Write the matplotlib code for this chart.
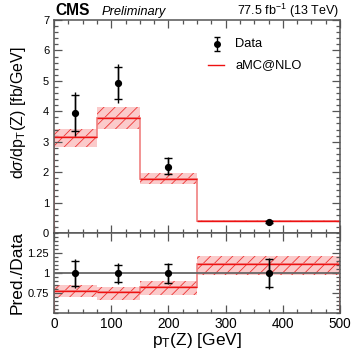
import matplotlib
matplotlib.use("Agg")
import matplotlib.pyplot as plt
import numpy as np
from matplotlib.ticker import MultipleLocator, FixedLocator

plt.rcParams['font.family'] = ['Liberation Sans', 'DejaVu Sans']
plt.rcParams['mathtext.fontset'] = 'custom'
plt.rcParams['mathtext.rm'] = 'Liberation Sans'
plt.rcParams['mathtext.it'] = 'Liberation Sans:italic'
plt.rcParams['hatch.linewidth'] = 0.6
plt.rcParams['hatch.color'] = '#ee3030'

# ---- data ----
bin_edges = [0, 75, 150, 250, 500]
bin_centers = [37.5, 112.5, 200, 375]
data_vals = [3.93, 4.93, 2.18, 0.35]
data_stat_up = [4.53, 5.46, 2.46, 0.38]
data_stat_dn = [3.36, 4.42, 1.94, 0.32]
data_tot_up = [4.62, 5.56, 2.50, 0.39]
data_tot_dn = [3.20, 4.28, 1.90, 0.31]

mc_vals = [3.15, 3.79, 1.79, 0.40]
mc_up = [3.43, 4.15, 1.98, 0.43]
mc_dn = [2.83, 3.41, 1.60, 0.37]

ratio_data = [1.0, 1.0, 1.0, 1.0]
ratio_stat_up = [1.145, 1.104, 1.116, 1.175]
ratio_stat_dn = [0.835, 0.883, 0.875, 0.82]
ratio_tot_up = [1.175, 1.125, 1.13, 1.19]
ratio_tot_dn = [0.81, 0.865, 0.86, 0.80]
ratio_mc = [0.78, 0.76, 0.825, 1.108]
ratio_mc_up = [0.854, 0.825, 0.90, 1.216]
ratio_mc_dn = [0.695, 0.666, 0.725, 0.97]

W = H = 357
fig = plt.figure(figsize=(3.57, 3.57), dpi=100)
L, R = 54 / W, 340 / W
ax = fig.add_axes([L, 1 - 233 / H, R - L, (233 - 20) / H])
rx = fig.add_axes([L, 1 - 313 / H, R - L, (313 - 233) / H])

frame_col = '#555555'
band_fill = '#fbcaca'
line_red = '#ee1111'
vert_col = '#f08080'


def draw_mc(a, vals, up, dn):
    edges = np.array(bin_edges)
    for i in range(len(vals)):
        a.fill_between([edges[i], edges[i + 1]], [dn[i]] * 2, [up[i]] * 2,
                       facecolor=band_fill, edgecolor='none', zorder=1)
        a.fill_between([edges[i], edges[i + 1]], [dn[i]] * 2, [up[i]] * 2,
                       facecolor='none', edgecolor='#ee3333', hatch='///',
                       linewidth=0, zorder=1.5)
    a.stairs(vals, edges, color=vert_col, linewidth=1.2, zorder=2)
    a.hlines(vals, edges[:-1], edges[1:], color=line_red, linewidth=1.0, zorder=2.5)


def draw_data(a, x, y, sup, sdn, tup, tdn):
    y = np.array(y)
    a.errorbar(x, y, yerr=[y - np.array(tdn), np.array(tup) - y], fmt='none',
               ecolor='black', elinewidth=1.0, capsize=0, zorder=4)
    a.errorbar(x, y, yerr=[y - np.array(sdn), np.array(sup) - y], fmt='o',
               color='black', ms=4.2, elinewidth=1.0, capsize=2.8,
               capthick=1.0, zorder=5)


draw_mc(ax, mc_vals, mc_up, mc_dn)
draw_data(ax, bin_centers, data_vals, data_stat_up, data_stat_dn, data_tot_up, data_tot_dn)

rx.axhline(1.0, color='#666666', linewidth=1.3, zorder=3)
draw_mc(rx, ratio_mc, ratio_mc_up, ratio_mc_dn)
draw_data(rx, bin_centers, ratio_data, ratio_stat_up, ratio_stat_dn, ratio_tot_up, ratio_tot_dn)

ax.set_xlim(0, 500)
ax.set_ylim(0, 7)
rx.set_xlim(0, 500)
rx.set_ylim(0.5, 1.5)

for a in (ax, rx):
    for s in a.spines.values():
        s.set_color(frame_col)
        s.set_linewidth(1.1)
    a.tick_params(which='both', direction='in', top=True, right=True,
                  color=frame_col, labelsize=8, width=0.9)
    a.tick_params(which='major', length=6)
    a.tick_params(which='minor', length=3)
    a.xaxis.set_major_locator(MultipleLocator(100))
    a.xaxis.set_minor_locator(MultipleLocator(25))

ax.yaxis.set_major_locator(MultipleLocator(1))
ax.yaxis.set_minor_locator(MultipleLocator(0.2))
ax.tick_params(labelbottom=False)
rx.yaxis.set_major_locator(FixedLocator([0.75, 1.0, 1.25]))
rx.yaxis.set_minor_locator(MultipleLocator(0.05))
rx.set_yticklabels(['0.75', '1', '1.25'])
rx.tick_params(axis='x', labelsize=9.8, pad=3)

# labels
fig.text(19 / W, 1 - 46 / H, r'd$\sigma$/dp$_{\mathrm{T}}$(Z) [fb/GeV]', rotation=90,
         ha='center', va='top', fontsize=11.5)
fig.text(17 / W, 1 - 272 / H, 'Pred./Data', rotation=90, ha='center', va='center',
         fontsize=12.5)
fig.text(197 / W, 1 - 341 / H, r'p$_{\mathrm{T}}$(Z) [GeV]', ha='center', va='center',
         fontsize=12.5)

fig.text(55 / W, 1 - 15 / H, 'CMS', fontweight='bold', fontsize=11.2, ha='left', va='baseline')
fig.text(102 / W, 1 - 15 / H, 'Preliminary', style='italic', fontsize=9.3, ha='left', va='baseline')
fig.text(339 / W, 1 - 15 / H, r'77.5 fb$^{-1}$ (13 TeV)', fontsize=9, ha='right', va='baseline')

# legend (manual)
lx = ax.transAxes.inverted()
def fig_to_ax(px, py):
    return lx.transform(fig.transFigure.transform((px / W, 1 - py / H)))

p = fig_to_ax(217, 44)
ax.errorbar([p[0]], [p[1]], yerr=[[0.035], [0.035]], transform=ax.transAxes, fmt='o',
            color='black', ms=4.0, capsize=2.5, elinewidth=1.0, capthick=1.0)
t = fig_to_ax(235, 44)
ax.text(t[0], t[1], 'Data', transform=ax.transAxes, fontsize=9.3, va='center', ha='left')
a1 = fig_to_ax(208, 65)
a2 = fig_to_ax(224, 65)
ax.plot([a1[0], a2[0]], [a1[1], a2[1]], transform=ax.transAxes, color=line_red, linewidth=1.0)
t = fig_to_ax(235, 65)
ax.text(t[0], t[1], 'aMC@NLO', transform=ax.transAxes, fontsize=9.3, va='center', ha='left')

fig.savefig('out.png', dpi=100)
